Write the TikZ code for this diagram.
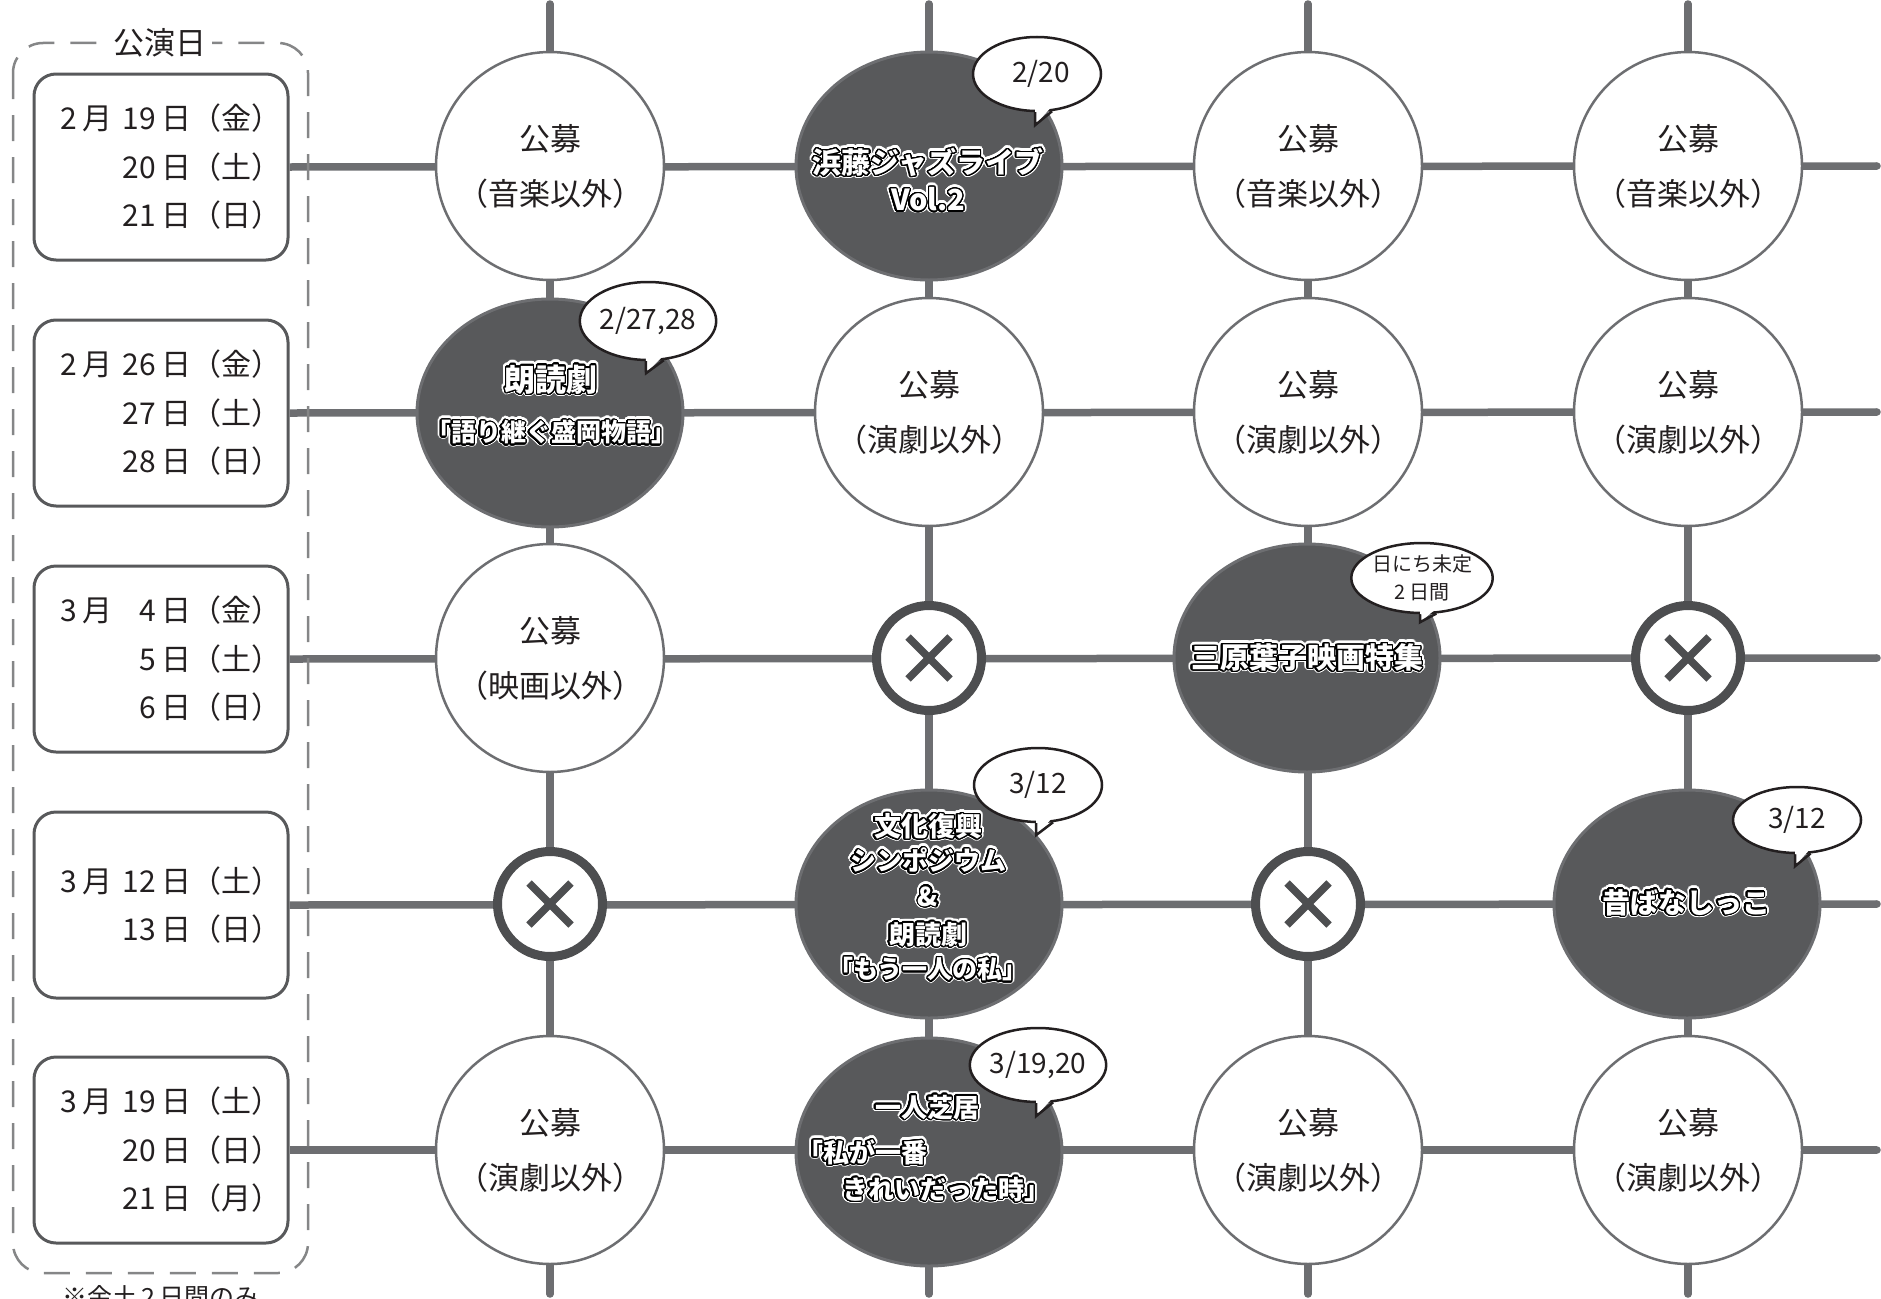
\documentclass[tikz,border=0pt]{standalone}
\usepackage{fontspec}
\setmainfont{Noto Sans CJK JP}
\usepackage{contour}
\contournumber{32}
\usetikzlibrary{shapes.geometric}
\definecolor{gline}{HTML}{6D6E71}
\definecolor{boxc}{HTML}{58595B}
\definecolor{dfill}{HTML}{58595B}
\definecolor{xc}{HTML}{4D4E50}
\definecolor{frm}{HTML}{858687}
\definecolor{txt}{HTML}{231F20}
\definecolor{bub}{HTML}{231F20}
\newcommand\fs[2]{\fontsize{#1}{#2}\selectfont}
\newcommand\g{\hspace{0.18em}}
\newcommand\fl[2]{\makebox[221pt][s]{#1\g{}月\hfill#2}}
% dark label: name, x, y, size, text
\newcommand\dtext[5]{%
  \node[dt,font=\bfseries\fs{#4}{#4}] at (#2,#3) {\contourlength{3.2pt}\contour{white}{#5}};
  \node[dt,font=\bfseries\fs{#4}{#4}] (#1) at (#2,#3) {\contourlength{1.3pt}\contour{black}{#5}};}
% bubble tail: node name, drop below bottom
\newcommand\btail[2]{%
  \fill[white] ([yshift=5pt]#1.-93) -- ([shift={(-2pt,-#2pt)}]#1.south) -- ([yshift=5pt]#1.-68) -- cycle;
  \draw[bubline] (#1.-93) -- ([shift={(-2pt,-#2pt)}]#1.south) -- (#1.-68);}
% cross marker: name, x, y
\newcommand\xmark[3]{%
  \node[xring] (#1) at (#2,#3) {};
  \draw[xarm] ([shift={(-21pt,-21pt)}]#1.center) -- ([shift={(21pt,21pt)}]#1.center);
  \draw[xarm] ([shift={(-21pt,21pt)}]#1.center) -- ([shift={(21pt,-21pt)}]#1.center);}
\begin{document}
\begin{tikzpicture}[x=1pt,y=-1pt,
  gridline/.style={draw=gline, line width=7.5pt, line cap=round},
  datebox/.style={draw=boxc, line width=3pt, rounded corners=22pt, minimum width=254pt, minimum height=186pt, inner sep=0pt},
  datetxt/.style={anchor=west, text width=221pt, align=right, inner sep=0pt, text=txt, font=\fs{30}{48.5}},
  frame/.style={draw=frm, line width=2.5pt, dash pattern=on 26pt off 16pt, rounded corners=30pt},
  wcirc/.style={circle, draw=gline, line width=2.5pt, fill=white, minimum size=228pt, inner sep=0pt, align=center, text=txt, font=\fs{31}{55}},
  dell/.style={ellipse, draw=gline, line width=3pt, fill=dfill, minimum width=266pt, minimum height=228pt, inner sep=0pt},
  xring/.style={circle, draw=xc, line width=9pt, fill=white, minimum size=105pt, inner sep=0pt},
  xarm/.style={draw=xc, line width=7.5pt},
  bubble/.style={ellipse, draw=bub, line width=2.5pt, fill=white, minimum width=128pt, minimum height=74pt, inner sep=0pt, align=center, text=bub, font=\fs{28}{30}},
  bubline/.style={draw=bub, line width=2.5pt, line join=miter},
  dt/.style={text=white, inner sep=0pt}]
\useasboundingbox (0,0) rectangle (1881,1298);

% date boxes
\node[datebox] (d1) at (161,167) {};
\node[datebox] (d2) at (161,413) {};
\node[datebox] (d3) at (161,659) {};
\node[datebox] (d4) at (161,905) {};
\node[datebox] (d5) at (161,1150) {};
\node[datetxt] (t1) at (60,167) {\fl{2}{19\g{}日（金）}\\\mbox{20\g{}日（土）}\\\mbox{21\g{}日（日）}};
\node[datetxt] (t2) at (60,413) {\fl{2}{26\g{}日（金）}\\\mbox{27\g{}日（土）}\\\mbox{28\g{}日（日）}};
\node[datetxt] (t3) at (60,659) {\fl{3}{4\g{}日（金）}\\\mbox{5\g{}日（土）}\\\mbox{6\g{}日（日）}};
\node[datetxt] (t4) at (60,905) {\fl{3}{12\g{}日（土）}\\\mbox{13\g{}日（日）}};
\node[datetxt] (t5) at (60,1150) {\fl{3}{19\g{}日（土）}\\\mbox{20\g{}日（日）}\\\mbox{21\g{}日（月）}};

% grid coordinates
\coordinate (v1t) at (550,4);  \coordinate (v1b) at (550,1294);
\coordinate (v2t) at (929,4);  \coordinate (v2b) at (929,1294);
\coordinate (v3t) at (1308,4); \coordinate (v3b) at (1308,1294);
\coordinate (v4t) at (1688,4); \coordinate (v4b) at (1688,1294);
\coordinate (h1) at (1877,166);
\coordinate (h2) at (1877,412);
\coordinate (h3) at (1877,658);
\coordinate (h4) at (1877,904);
\coordinate (h5) at (1877,1150);
\draw[gridline] (v1t) -- (v1b);
\draw[gridline] (v2t) -- (v2b);
\draw[gridline] (v3t) -- (v3b);
\draw[gridline] (v4t) -- (v4b);
\draw[gridline,line cap=butt] (d1.east) -- (h1);
\draw[gridline,line cap=butt] (d2.east) -- (h2);
\draw[gridline,line cap=butt] (d3.east) -- (h3);
\draw[gridline,line cap=butt] (d4.east) -- (h4);
\draw[gridline,line cap=butt] (d5.east) -- (h5);
\fill[gline] (h1) circle (3.75pt) (h2) circle (3.75pt) (h3) circle (3.75pt) (h4) circle (3.75pt) (h5) circle (3.75pt);

% dashed frame
\draw[frame] (13,43) rectangle (308,1273);
\node[fill=white, inner xsep=5pt, inner ysep=2pt, text=txt, font=\fs{31}{31}] (ttl) at (160,43) {公演日};
\node[text=txt, font=\fs{25}{25}] (fn) at (161,1297) {※金土\g{}2\g{}日間のみ};

% row 1
\node[wcirc] (c11) at (550,166) {公募\\（音楽以外）};
\node[dell] (e12) at (929,166) {};
\node[wcirc] (c13) at (1308,166) {公募\\（音楽以外）};
\node[wcirc] (c14) at (1688,166) {公募\\（音楽以外）};
% row 2
\node[dell] (e21) at (550,413) {};
\node[wcirc] (c22) at (929,412) {公募\\（演劇以外）};
\node[wcirc] (c23) at (1308,412) {公募\\（演劇以外）};
\node[wcirc] (c24) at (1688,412) {公募\\（演劇以外）};
% row 3
\node[wcirc] (c31) at (550,658) {公募\\（映画以外）};
\xmark{x32}{929}{658}
\node[dell] (e33) at (1307,658) {};
\xmark{x34}{1688}{658}
% row 4
\xmark{x41}{550}{904}
\node[dell] (e42) at (929,904) {};
\xmark{x43}{1308}{904}
\node[dell] (e44) at (1687,904) {};
% row 5
\node[wcirc] (c51) at (550,1150) {公募\\（演劇以外）};
\node[dell] (e52) at (929,1152) {};
\node[wcirc] (c53) at (1308,1150) {公募\\（演劇以外）};
\node[wcirc] (c54) at (1688,1150) {公募\\（演劇以外）};

% dark labels
\dtext{jz1}{928}{163}{29}{浜藤ジャズライブ}
\dtext{jz2}{928}{200}{29}{Vol.2}
\dtext{rd1}{551}{380}{31}{朗読劇}
\dtext{rd2}{551}{433}{25}{「語り継ぐ盛岡物語」}
\dtext{mh1}{1307}{658}{29}{三原葉子映画特集}
\dtext{sy1}{928}{827}{27}{文化復興}
\dtext{sy2}{928}{861}{26}{シンポジウム}
\dtext{sy3}{928}{897}{26}{\&}
\dtext{sy4}{928}{935}{26}{朗読劇}
\dtext{sy5}{928}{970}{25}{「もう一人の私」}
\dtext{hs1}{927}{1108}{26}{一人芝居}
\dtext{hs2}{862}{1153}{26}{「私が一番}
\dtext{hs3}{946}{1190}{26}{きれいだった時」}
\dtext{mb1}{1686}{903}{28}{昔ばなしっこ}

% speech bubbles
\node[bubble] (b1) at (1037,74) {\hspace{8pt}2/20};
\btail{b1}{13}
\node[bubble, minimum height=78pt] (b2) at (648,321) {2/27,28};
\btail{b2}{12}
\node[bubble, minimum height=70pt, font=\fs{20}{28}] (b3) at (1422,578) {日にち未定\\2\g{}日間};
\btail{b3}{8}
\node[bubble] (b4) at (1038,785) {3/12};
\btail{b4}{12}
\node[bubble] (b5) at (1038,1065) {3/19,20};
\btail{b5}{13}
\node[bubble, minimum height=66pt] (b6) at (1797,820) {3/12};
\btail{b6}{12}
\end{tikzpicture}
\end{document}
